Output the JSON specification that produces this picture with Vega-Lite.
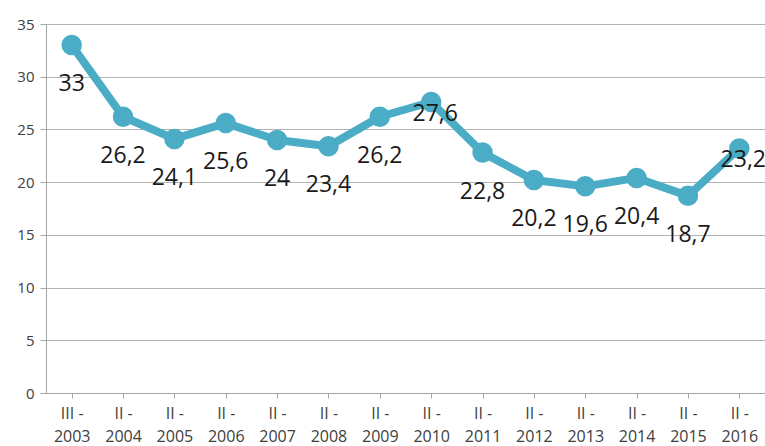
{
  "$schema": "https://vega.github.io/schema/vega-lite/v6.json",
  "autosize": {"type": "none"},
  "padding": {"left": 46, "top": 24, "right": 0, "bottom": 53},
  "width": 719,
  "height": 369,
  "background": "white",
  "config": {"view": {"stroke": null}, "font": "Open Sans"},
  "data": {"values": [
    {"period": "III -|2003", "value": 33},
    {"period": "II -|2004", "value": 26.2},
    {"period": "II -|2005", "value": 24.1},
    {"period": "II -|2006", "value": 25.6},
    {"period": "II -|2007", "value": 24},
    {"period": "II -|2008", "value": 23.4},
    {"period": "II -|2009", "value": 26.2},
    {"period": "II -|2010", "value": 27.6},
    {"period": "II -|2011", "value": 22.8},
    {"period": "II -|2012", "value": 20.2},
    {"period": "II -|2013", "value": 19.6},
    {"period": "II -|2014", "value": 20.4},
    {"period": "II -|2015", "value": 18.7},
    {"period": "II -|2016", "value": 23.2}
  ]},
  "transform": [{"calculate": "replace(toString(datum.value), '.', ',')", "as": "label"}],
  "encoding": {
    "x": {"field": "period", "type": "ordinal", "sort": null,
      "scale": {"paddingInner": 0, "paddingOuter": 0},
      "axis": {"title": null, "labelAngle": 0, "labelExpr": "split(datum.value, '|')",
        "labelFontSize": 16, "labelColor": "#404040", "labelLineHeight": 23, "labelPadding": 7,
        "domainColor": "#a6a6a6", "tickColor": "#a6a6a6", "tickSize": 5, "bandPosition": 0,
        "grid": false}},
    "y": {"field": "value", "type": "quantitative",
      "scale": {"domain": [0, 35], "nice": false},
      "axis": {"title": null, "values": [0, 5, 10, 15, 20, 25, 30, 35], "labelFontSize": 15,
        "labelColor": "#404040", "labelPadding": 6, "domainColor": "#a6a6a6",
        "tickColor": "#a6a6a6", "tickSize": 6, "gridColor": "#b3b3b3", "gridWidth": 1}}
  },
  "layer": [
    {"mark": {"type": "line", "color": "#4bacc6", "strokeWidth": 8, "strokeJoin": "round"}},
    {"mark": {"type": "circle", "color": "#4bacc6", "opacity": 1, "size": 420}},
    {"transform": [{"filter": "datum.period != 'II -|2010' && datum.period != 'II -|2016'"}],
      "mark": {"type": "text", "fontSize": 23, "color": "#1a1a1a", "dy": 39, "baseline": "middle"},
      "encoding": {"text": {"field": "label"}}},
    {"transform": [{"filter": "datum.period == 'II -|2010' || datum.period == 'II -|2016'"}],
      "mark": {"type": "text", "fontSize": 23, "color": "#1a1a1a", "dy": 12, "dx": 4, "baseline": "middle"},
      "encoding": {"text": {"field": "label"}}}
  ]
}
